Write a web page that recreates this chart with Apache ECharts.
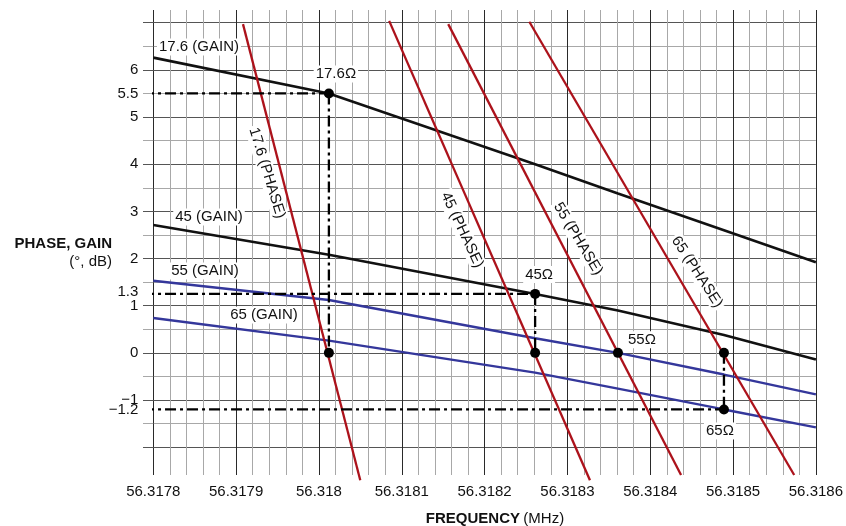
<!DOCTYPE html>
<html><head><meta charset="utf-8">
<script src="https://cdn.jsdelivr.net/npm/echarts@6/dist/echarts.min.js"></script>
<style>html,body{margin:0;padding:0;background:#fff}#c{width:846px;height:526px}</style>
</head><body><div id="c"></div>
<script>
// ---------- data ----------
const xMin = 56.3178, xMax = 56.3186, xMajorStep = 0.0001, xMinorStep = 0.00002;
const yMin = -2.59, yMax = 7.27;
const yGridValues = [-2,-1.5,-1,-0.5,0,0.5,1,1.5,2,2.5,3,3.5,4,4.5,5,5.5,6,6.5,7];
const yMajorValues = [-2,-1,0,1,2,3,4,5,6,7];
const yTickLabels = [-1,0,1,2,3,4,5,6];
const ySpecialLabels = [-1.2,1.3,5.5];

// gain curves (dB) at measured frequencies (MHz)
const gainFreq = [56.3178, 56.318012, 56.318261, 56.318361, 56.318489, 56.3186];
const gain176 = [6.26, 5.50, 4.00, 3.38, 2.60, 1.92];
const gain45  = [2.71, 2.08, 1.25, 0.90, 0.38, -0.14];
const gain55  = [1.53, 1.12, 0.31, 0.00, -0.46, -0.88];
const gain65  = [0.74, 0.26, -0.42, -0.76, -1.20, -1.58];

// phase lines (degrees): end points
const phase176F = [56.3179083, 56.3180499], phase176V = [6.97, -2.70];
const phase45F  = [56.3180848, 56.3183272], phase45V  = [7.04, -2.70];
const phase55F  = [56.3181561, 56.3184372], phase55V  = [6.97, -2.59];
const phase65F  = [56.3182540, 56.3185738], phase65V  = [7.02, -2.59];

// markers
const markerFreq = [56.318012, 56.318012, 56.318261, 56.318261, 56.318361, 56.318489, 56.318489];
const markerVal  = [5.5, 0, 1.25, 0, 0, 0, -1.2];
const markerText = ['17.6Ω', '', '45Ω', '', '55Ω', '', '65Ω'];

// guide (dash-dot) lines
const guideStartF = 56.3177876;
const guideHF = [56.318012, 56.318261, 56.318489];
const guideHV = [5.5, 1.25, -1.2];
const guideVF = [56.318012, 56.318261, 56.318489];
const guideVFrom = [5.5, 1.25, 0];
const guideVTo = [0, 0, -1.2];

// ---------- styles ----------
const FONT = '"Liberation Sans", Arial, Helvetica, sans-serif';
const RED = '#ac121b', BLUE = '#34379b', BLACK = '#111111', TXT = '#111111';
const markerLabelStyle = [
  {position:'top', offset:[7,-1]}, null,
  {position:'top', offset:[4,-1]}, null,
  {position:'right', offset:[-2,-13]}, null,
  {position:'bottom', offset:[-4,3]}
];

const chart = echarts.init(document.getElementById('c'), null, {renderer:'canvas'});
const pairs = (xs, ys) => xs.map((x, i) => [x, ys[i]]);
const series = [];
function addLine(data, color, width, type, z) {
  series.push({type:'line', data, symbol:'none', silent:true, clip:false, z: z || 2,
    lineStyle:{color, width, type: type || 'solid'}});
}
addLine(pairs(gainFreq, gain176), BLACK, 2.6);
addLine(pairs(gainFreq, gain45), BLACK, 2.6);
addLine(pairs(gainFreq, gain55), BLUE, 2.4);
addLine(pairs(gainFreq, gain65), BLUE, 2.4);
addLine(pairs(phase176F, phase176V), RED, 2.3, null, 3);
addLine(pairs(phase45F, phase45V), RED, 2.3, null, 3);
addLine(pairs(phase55F, phase55V), RED, 2.3, null, 3);
addLine(pairs(phase65F, phase65V), RED, 2.3, null, 3);
const DASHDOT = [11, 4, 3, 4];
guideHF.forEach((f, i) => addLine([[guideStartF, guideHV[i]], [f, guideHV[i]]], '#000', 2.3, DASHDOT, 4));
guideVF.forEach((f, i) => addLine([[f, guideVFrom[i]], [f, guideVTo[i]]], '#000', 2.3, DASHDOT, 4));

series.push({
  type:'scatter', z:5, silent:true, symbolSize:10,
  itemStyle:{color:'#000', opacity:1},
  data: markerFreq.map((f, i) => {
    const item = {value:[f, markerVal[i]]};
    if (markerText[i]) {
      item.label = Object.assign({show:true, formatter: markerText[i], fontFamily:FONT, fontSize:15,
        color:TXT, opacity:1, backgroundColor:'#fff', padding:[1,2]}, markerLabelStyle[i]);
    }
    return item;
  })
});

const rad = d => d * Math.PI / 180;
function txt(x, y, text, extra, rot) {
  return {type:'text', x, y, z:1, rotation: rot ? -rad(rot) : 0,
    style:Object.assign({text, font:'15px ' + FONT, fill:TXT, align:'center', verticalAlign:'middle'}, extra || {})};
}
const bg = {backgroundColor:'#fff', padding:[1,2]};
const MAJOR_V = '#2a2a2a', MINOR = '#a8a8a8';
const yLabelStyle = {fontFamily:FONT, fontSize:15, color:TXT, margin:15,
  showMinLabel:true, showMaxLabel:true, hideOverlap:false,
  formatter: v => String(+(+v).toFixed(2)).replace('-', '\u2212')};

chart.setOption({
  animation:false,
  backgroundColor:'#fff',
  grid:{left:153.3, right:27.7, top:10, bottom:51, containLabel:false},
  xAxis:{
    type:'value', min:xMin, max:xMax, interval:xMinorStep,
    axisLine:{show:false}, axisTick:{show:false},
    axisLabel:{fontFamily:FONT, fontSize:15, color:TXT, margin:9, showMinLabel:true, showMaxLabel:true,
      formatter: v => {
        const k = Math.round((v - xMin) / xMinorStep);
        return k % Math.round(xMajorStep / xMinorStep) === 0 ? (+v).toFixed(4).replace(/0+$/, '') : '';
      }},
    splitLine:{show:true, lineStyle:{color:[MAJOR_V, MINOR, MINOR, MINOR, MINOR], width:1}}
  },
  yAxis:[
    {type:'value', min:yMin, max:yMax,
      axisLine:{show:false}, axisLabel:{show:false},
      axisTick:{show:true, length:10.3, customValues:yGridValues, lineStyle:{color:MINOR}},
      splitLine:{show:true, lineStyle:{color:['#555555', MINOR], width:1}}},
    {type:'value', min:yMin, max:yMax, position:'left', offset:0,
      axisLine:{show:false}, splitLine:{show:false},
      axisTick:{show:true, length:10.3, customValues:yMajorValues, lineStyle:{color:'#555555'}},
      axisLabel:Object.assign({customValues:yTickLabels}, yLabelStyle)},
    {type:'value', min:yMin, max:yMax, position:'left', offset:0,
      axisLine:{show:false}, splitLine:{show:false}, axisTick:{show:false, customValues:ySpecialLabels},
      axisLabel:Object.assign({customValues:ySpecialLabels}, yLabelStyle)}
  ],
  series,
  graphic:[
    txt(199, 47, '17.6 (GAIN)', bg),
    txt(209, 217, '45 (GAIN)', bg),
    txt(205, 271, '55 (GAIN)', bg),
    txt(264, 315, '65 (GAIN)', bg),
    txt(267, 173, '17.6 (PHASE)', bg, 73),
    txt(462, 230, '45 (PHASE)', bg, 65),
    txt(578, 239, '55 (PHASE)', bg, 59),
    txt(697, 272, '65 (PHASE)', bg, 57),
    txt(112, 244, 'PHASE, GAIN', {align:'right', font:'bold 15px ' + FONT}),
    txt(112, 262, '(°, dB)', {align:'right'}),
    {type:'text', x:495, y:519, z:1, style:{
      text:'{b|FREQUENCY} {n|(MHz)}', align:'center', verticalAlign:'middle',
      rich:{b:{fontFamily:FONT, fontSize:15, fontWeight:'bold', fill:TXT, color:TXT},
            n:{fontFamily:FONT, fontSize:15, fill:TXT, color:TXT}}}}
  ]
});
</script></body></html>
